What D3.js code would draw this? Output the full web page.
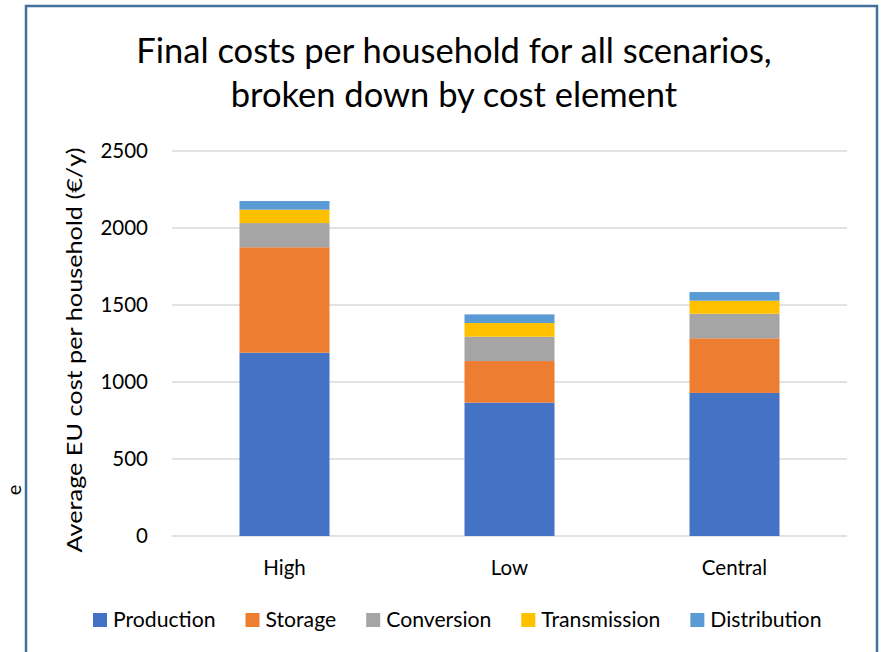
<!DOCTYPE html>
<html><head><meta charset="utf-8">
<script src="https://cdn.jsdelivr.net/npm/d3@7"></script>
<style>body{margin:0;background:#fff;}svg{display:block;}</style>
</head><body>
<script>
const categories = ["High", "Low", "Central"];
const seriesNames = ["Production", "Storage", "Conversion", "Transmission", "Distribution"];
const production   = [1190, 866, 929];
const storage      = [685, 270, 355];
const conversion   = [157, 158, 159];
const transmission = [87, 89, 85];
const distribution = [56, 56, 56];
const colors = ["#4472C4", "#ED7D31", "#A5A5A5", "#FFC000", "#5B9BD5"];
const yTicks = [0, 500, 1000, 1500, 2000, 2500];
const titleLines = ["Final costs per household for all scenarios,", "broken down by cost element"];
const yLabel = "Average EU cost per household (\u20AC/y)";

const W = 887, H = 652;
const font = "Lato, 'Open Sans', sans-serif";
const svg = d3.select("body").append("svg").attr("width", W).attr("height", H);

// frame
svg.append("rect").attr("x", 26).attr("y", 6).attr("width", 851).attr("height", 660)
  .attr("fill", "none").attr("stroke", "#41719C").attr("stroke-width", 2.5);
// text fragment at left edge (outside frame)
svg.append("text").attr("transform", "translate(21,490) rotate(-90)")
  .attr("text-anchor", "middle").attr("font-family", font).attr("font-size", 20).attr("fill", "#000").text("e");

const x = d3.scaleBand().domain(categories).range([172, 847]).paddingInner(0.6).paddingOuter(0.3);
const y = d3.scaleLinear().domain([0, 2500]).range([536, 151]);

// gridlines
svg.append("g").selectAll("line").data(yTicks).join("line")
  .attr("x1", 172).attr("x2", 847).attr("y1", d => y(d)).attr("y2", d => y(d))
  .attr("stroke", "#D9D9D9").attr("stroke-width", 1.3);

const rows = categories.map((c, i) => ({cat: c, Production: production[i], Storage: storage[i],
  Conversion: conversion[i], Transmission: transmission[i], Distribution: distribution[i]}));
const stack = d3.stack().keys(seriesNames)(rows);

svg.append("g").selectAll("g").data(stack).join("g").attr("fill", (d, i) => colors[i])
  .selectAll("rect").data(d => d).join("rect")
  .attr("x", d => x(d.data.cat)).attr("width", x.bandwidth())
  .attr("y", d => y(d[1])).attr("height", d => y(d[0]) - y(d[1]));

// y axis tick labels
const yAxis = svg.append("g").attr("transform", "translate(148,0)")
  .call(d3.axisLeft(y).tickValues(yTicks).tickFormat(d3.format("d")).tickSize(0).tickPadding(0));
yAxis.select(".domain").remove();
yAxis.selectAll("text").attr("font-family", font).attr("font-size", 20.5).attr("fill", "#000");

// x axis labels
const xAxis = svg.append("g").attr("transform", "translate(0,575)")
  .call(d3.axisBottom(x).tickSize(0).tickPadding(0));
xAxis.select(".domain").remove();
xAxis.selectAll("text").attr("font-family", font).attr("font-size", 20.5).attr("fill", "#000").attr("dy", "0");

// title
svg.append("g").selectAll("text").data(titleLines).join("text")
  .attr("x", 454).attr("y", (d, i) => 63 + i * 44).attr("text-anchor", "middle")
  .attr("font-family", font).attr("font-size", 34.5).attr("fill", "#000").text(d => d);

// y label
svg.append("text").attr("transform", "translate(82,350) rotate(-90)").attr("text-anchor", "middle")
  .attr("font-family", font).attr("font-size", 21.5).attr("fill", "#000")
  .attr("textLength", 405).attr("lengthAdjust", "spacingAndGlyphs").text(yLabel);

// legend
const leg = svg.append("g");
let lx = 93;
seriesNames.forEach((s, i) => {
  leg.append("rect").attr("x", lx).attr("y", 613).attr("width", 14).attr("height", 14).attr("fill", colors[i]);
  const t = leg.append("text").attr("x", lx + 20).attr("y", 627).attr("font-family", font)
    .attr("font-size", 21.2).attr("fill", "#000").text(s);
  lx += 20 + t.node().getComputedTextLength() + 30;
});
</script>
</body></html>
